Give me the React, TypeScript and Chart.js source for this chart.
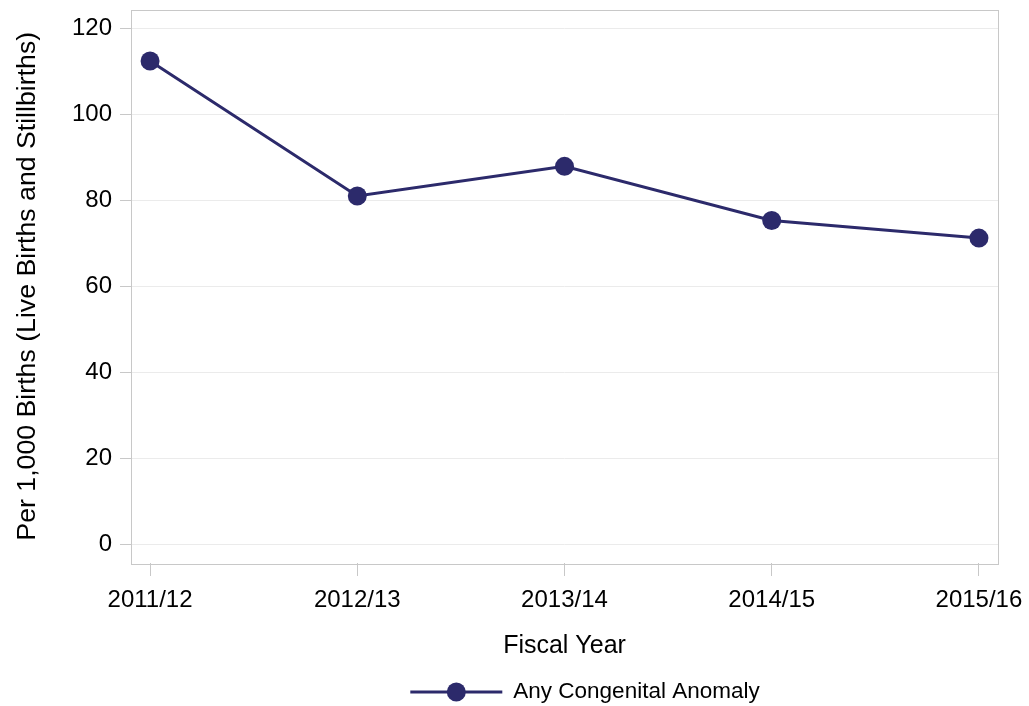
import React, { useEffect, useRef } from "react";
import { Chart, registerables } from "chart.js";

Chart.register(...registerables);

const fiscalYears = ["2011/12", "2012/13", "2013/14", "2014/15", "2015/16"];
const anyCongenitalAnomaly = [112.4, 81.0, 87.9, 75.3, 71.2];
const yTicks = [0, 20, 40, 60, 80, 100, 120];
const seriesName = "Any Congenital Anomaly";
const xTitle = "Fiscal Year";
const yTitle = "Per 1,000 Births (Live Births and Stillbirths)";

const FONT = "'Liberation Sans', Arial, sans-serif";
const LINE_COLOR = "#2c2a6b";
const FRAME = "#c8c8c8";

const framePlugin = {
  id: "frame",
  beforeDatasetsDraw(chart: any) {
    const { ctx, chartArea } = chart;
    ctx.save();
    ctx.strokeStyle = FRAME;
    ctx.lineWidth = 1;
    ctx.strokeRect(
      Math.round(chartArea.left) + 0.5,
      Math.round(chartArea.top) + 0.5,
      Math.round(chartArea.right - chartArea.left),
      Math.round(chartArea.bottom - chartArea.top)
    );
    ctx.restore();
  },
};

const legendPlugin = {
  id: "customLegend",
  afterDraw(chart: any) {
    const { ctx } = chart;
    ctx.save();
    ctx.font = `22.5px ${FONT}`;
    const textW = ctx.measureText(seriesName).width;
    const lineW = 92;
    const gap = 11;
    const total = lineW + gap + textW;
    const cx = 585;
    const y = 692;
    const x0 = cx - total / 2;
    ctx.strokeStyle = LINE_COLOR;
    ctx.lineWidth = 3;
    ctx.beginPath();
    ctx.moveTo(x0, y);
    ctx.lineTo(x0 + lineW, y);
    ctx.stroke();
    ctx.fillStyle = LINE_COLOR;
    ctx.beginPath();
    ctx.arc(x0 + lineW / 2, y, 9.5, 0, Math.PI * 2);
    ctx.fill();
    ctx.fillStyle = "#000";
    ctx.textBaseline = "middle";
    ctx.textAlign = "left";
    ctx.fillText(seriesName, x0 + lineW + gap, y);
    ctx.restore();
  },
};

export default function App() {
  const ref = useRef<HTMLCanvasElement | null>(null);

  useEffect(() => {
    if (!ref.current) return;
    const chart = new Chart(ref.current, {
      type: "line",
      data: {
        datasets: [
          {
            label: seriesName,
            data: anyCongenitalAnomaly.map((v, i) => ({ x: i, y: v })),
            borderColor: LINE_COLOR,
            backgroundColor: LINE_COLOR,
            borderWidth: 3,
            pointRadius: 9.5,
            pointHoverRadius: 9.5,
            pointBackgroundColor: LINE_COLOR,
            pointBorderWidth: 0,
            tension: 0,
          },
        ],
      },
      options: {
        animation: false,
        responsive: true,
        maintainAspectRatio: false,
        layout: { padding: { top: 8, right: 31, left: 0, bottom: 44 } },
        plugins: {
          legend: { display: false },
          tooltip: { enabled: false },
        },
        scales: {
          x: {
            type: "linear",
            min: -0.092,
            max: 4.092,
            afterBuildTicks: (scale: any) => {
              scale.ticks = fiscalYears.map((_, i) => ({ value: i }));
            },
            afterFit: (scale: any) => {
              scale.height = 99;
              scale.paddingLeft = 0;
              scale.paddingRight = 0;
            },
            ticks: {
              includeBounds: false,
              autoSkip: false,
              maxRotation: 0,
              padding: 10,
              color: "#000",
              font: { family: FONT, size: 24 },
              callback: (v: any) => fiscalYears[v] ?? "",
            },
            grid: {
              drawOnChartArea: false,
              tickLength: 13,
              tickColor: FRAME,
              color: FRAME,
            },
            border: { display: false },
            title: {
              display: true,
              text: xTitle,
              color: "#000",
              font: { family: FONT, size: 25 },
              padding: { top: 0, bottom: 1 },
            },
          },
          y: {
            type: "linear",
            min: -4.4,
            max: 124.4,
            afterBuildTicks: (scale: any) => {
              scale.ticks = yTicks.map((v) => ({ value: v }));
            },
            afterFit: (scale: any) => {
              scale.width = 131;
              scale.paddingTop = 0;
              scale.paddingBottom = 0;
            },
            ticks: {
              includeBounds: false,
              padding: 8,
              color: "#000",
              font: { family: FONT, size: 24 },
            },
            grid: {
              color: "#ebebeb",
              tickColor: FRAME,
              tickLength: 11,
            },
            border: { display: false },
            title: {
              display: true,
              text: yTitle,
              color: "#000",
              font: { family: FONT, size: 26.7 },
              padding: { top: 12, bottom: 0 },
            },
          },
        },
      } as any,
      plugins: [framePlugin, legendPlugin],
    });
    return () => chart.destroy();
  }, []);

  return (
    <div style={{ position: "absolute", left: 0, top: 0, width: 1029, height: 706, background: "#fff" }}>
      <canvas ref={ref} />
    </div>
  );
}
